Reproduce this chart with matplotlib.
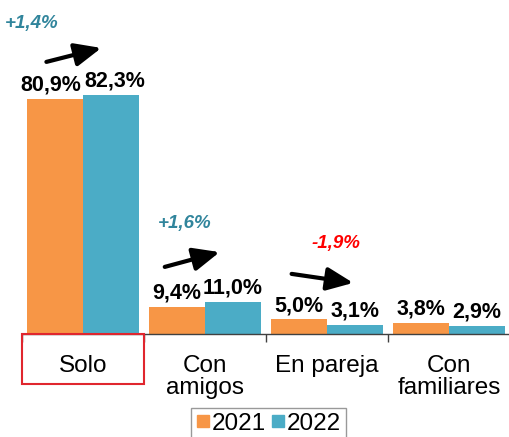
import numpy as np
import matplotlib
matplotlib.use("Agg")
import matplotlib.pyplot as plt
from matplotlib.patches import Rectangle
from matplotlib.lines import Line2D
from matplotlib.transforms import blended_transform_factory

categories = ['Solo', 'Con\namigos', 'En pareja', 'Con\nfamiliares']
vals_2021 = [80.9, 9.4, 5.0, 3.8]
vals_2022 = [82.3, 11.0, 3.1, 2.9]
years = ['2021', '2022']

# change annotations: category index, (text dx, dy), (arrow tail dx, dy), (arrow tip dx, dy)
change_cats = [0, 1, 2]
change_text_pos = [(-0.42, 24.5), (-0.17, 26.9), (0.07, 26.0)]
arrow_tail = [(-0.30, 11.4), (-0.33, 12.1), (-0.29, 15.7)]
arrow_tip = [(0.15, 16.2), (0.12, 17.2), (0.215, 12.6)]

c21 = '#F79646'
c22 = '#4BACC6'

plt.rcParams['font.family'] = ['Liberation Sans', 'DejaVu Sans']

fig = plt.figure(figsize=(5.10, 4.37), dpi=100)
W, H = 510, 437
ax = fig.add_axes([22 / W, 103 / H, (W - 22) / W, 334 / H])

ind = np.arange(len(categories))
width = 0.455
b1 = ax.bar(ind - width / 2, vals_2021, width, color=c21)
b2 = ax.bar(ind + width / 2, vals_2022, width, color=c22)

def fmt(v):
    return ('%.1f%%' % v).replace('.', ',')

# labels on the tall pair are pushed apart a little so they don't touch
for bars, vals, side in ((b1, vals_2021, -1), (b2, vals_2022, 1)):
    for r, v in zip(bars, vals):
        dx = 3 * side if v > 50 else 0
        ax.annotate(fmt(v), (r.get_x() + r.get_width() / 2, v), xytext=(dx, 6),
                    textcoords='offset points', ha='center', va='baseline',
                    fontsize=15.5, fontweight='bold', color='black')

for k, i in enumerate(change_cats):
    d = vals_2022[i] - vals_2021[i]
    base = max(vals_2021[i], vals_2022[i])
    txt = ('+' if d > 0 else '') + ('%.1f%%' % d).replace('.', ',')
    col = '#31859C' if d > 0 else '#FF0000'
    tx, ty = change_text_pos[k]
    ax.text(i + tx, base + ty, txt, ha='center', va='center', fontsize=13.5,
            fontweight='bold', fontstyle='italic', color=col)
    ax.annotate('', xy=(i + arrow_tip[k][0], base + arrow_tip[k][1]),
                xytext=(i + arrow_tail[k][0], base + arrow_tail[k][1]),
                arrowprops=dict(arrowstyle='-|>,head_length=0.8,head_width=0.35',
                                lw=3, color='black', mutation_scale=20,
                                shrinkA=0, shrinkB=0))

ax.set_xlim(-0.5, 3.5 - 4 / 123)
ax.set_ylim(0, 334 / 2.904)
for s in ['top', 'right', 'left']:
    ax.spines[s].set_visible(False)
ax.spines['bottom'].set_color('#404040')
ax.spines['bottom'].set_linewidth(1)
ax.set_yticks([])
ax.set_xticks(ind)
ax.set_xticklabels(categories, fontsize=17.5, linespacing=1.0)
ax.tick_params(axis='x', which='major', length=0, pad=15)
ax.set_xticks(np.arange(-0.5, 4, 1), minor=True)
ax.tick_params(axis='x', which='minor', length=6, color='#404040', width=1)

# red box around "Solo"
tr = blended_transform_factory(ax.transData, fig.transFigure)
fig.add_artist(Rectangle((-0.5, 1 - 384 / H), 1, 50 / H, transform=tr,
                         fill=False, edgecolor='#E0262E', lw=1.5, clip_on=False))

handles = [Line2D([], [], marker='s', ls='', markersize=9, color=c21),
           Line2D([], [], marker='s', ls='', markersize=9, color=c22)]
leg = fig.legend(handles, years, loc='upper center', bbox_to_anchor=(268.5 / W, 1 - 408 / H),
                 ncol=2, fontsize=17.5, frameon=True, fancybox=False, borderpad=0.2,
                 handletextpad=0.1, columnspacing=0.2, handlelength=0.55, borderaxespad=0)
leg.get_frame().set_edgecolor('#808080')
leg.get_frame().set_linewidth(1)

fig.savefig('out.png', dpi=100)
